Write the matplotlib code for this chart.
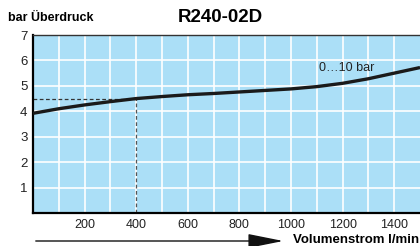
import matplotlib
matplotlib.use("Agg")
import matplotlib.pyplot as plt

plt.rcParams['font.family'] = ['Liberation Sans', 'DejaVu Sans']

flow = [0, 100, 200, 300, 400, 500, 600, 700, 800, 900, 1000, 1100, 1200, 1300, 1400, 1500]
pressure = [3.92, 4.1, 4.25, 4.38, 4.5, 4.58, 4.65, 4.7, 4.76, 4.82, 4.88, 4.97, 5.1, 5.28, 5.5, 5.72]
xticks = [200, 400, 600, 800, 1000, 1200, 1400]
yticks = [1, 2, 3, 4, 5, 6, 7]
mark_x, mark_y = 400, 4.5

fig = plt.figure(figsize=(4.2, 2.46), dpi=100)
ax = fig.add_axes([33/420, 1 - 213/246, (420 - 33)/420, (213 - 35)/246])
ax.set_facecolor('#abdff7')
ax.set_xlim(0, 1500)
ax.set_ylim(0, 7)

for gx in range(100, 1500, 100):
    ax.axvline(gx, color='white', lw=1.2, zorder=1)
for gy in range(1, 7):
    ax.axhline(gy, color='white', lw=1.2, zorder=1)

ax.plot(flow, pressure, color='#1a1a1a', lw=2.4, zorder=3, solid_capstyle='butt')
ax.plot([0, mark_x], [mark_y, mark_y], color='#333333', lw=0.9, ls=(0, (3, 2)), zorder=2)
ax.plot([mark_x, mark_x], [0, mark_y], color='#555555', lw=0.9, ls=(0, (3, 2)), zorder=2)

ax.text(1110, 5.6, '0…10 bar', fontsize=9, color='#222222')

ax.set_xticks(xticks)
ax.set_yticks(yticks)
ax.tick_params(length=0, labelsize=9, colors='#222222', pad=4)
ax.tick_params(axis='y', pad=4, labelsize=9.5)
ax.spines['right'].set_visible(False)
ax.spines['top'].set_color('#333333')
ax.spines['top'].set_linewidth(1.0)
ax.spines['left'].set_linewidth(1.6)
ax.spines['bottom'].set_linewidth(1.6)

fig.text(8/420, 1 - 18/246, 'bar Überdruck', fontsize=9, fontweight='bold', va='center')
fig.text(220/420, 1 - 17/246, 'R240-02D', fontsize=13.5, fontweight='bold', va='center', ha='center')
fig.text(419/420, 1 - 240/246, 'Volumenstrom l/min', fontsize=9.5, fontweight='bold', va='center', ha='right')
fig.patches.append(matplotlib.patches.FancyArrowPatch(
    (33/420, 1 - 241/246), (286/420, 1 - 241/246), transform=fig.transFigure,
    arrowstyle='-|>,head_length=1.1,head_width=0.22', mutation_scale=20, lw=1.0, color='#111111'))

fig.savefig('out.png', dpi=100)
